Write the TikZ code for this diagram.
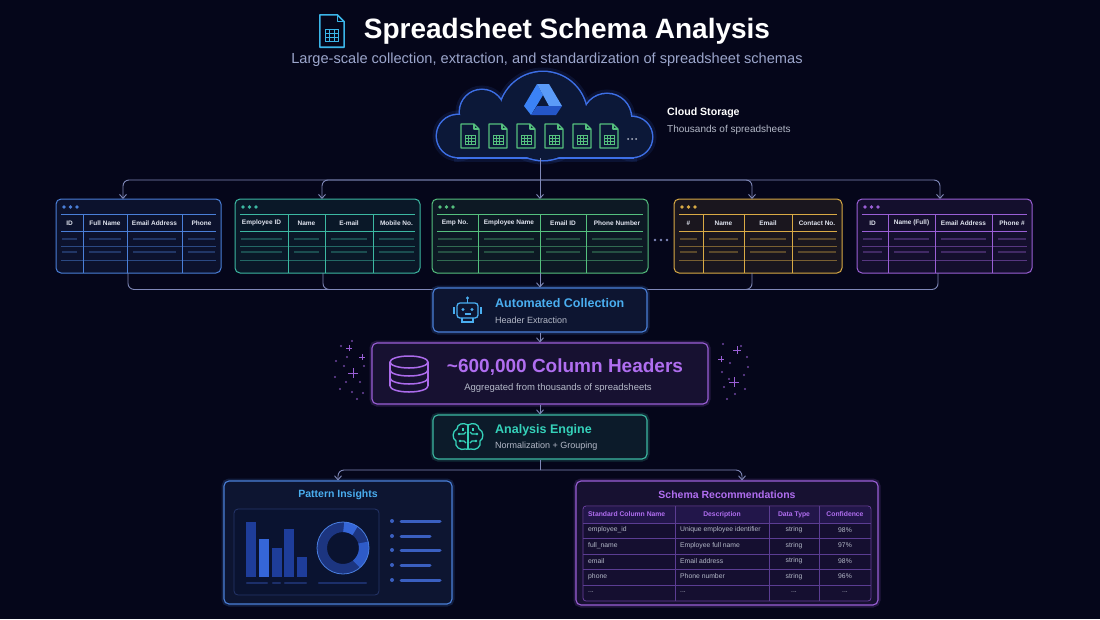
\documentclass[tikz,border=0pt]{standalone}
\usepackage{fontspec}
\setmainfont{Liberation Sans}
\usetikzlibrary{arrows.meta,positioning,calc}

\definecolor{bgcol}{HTML}{05061A}
\definecolor{linkcol}{HTML}{7F88B8}
\definecolor{cblue}{HTML}{4A7FD8}
\definecolor{cteal}{HTML}{3CB8A2}
\definecolor{cgreen}{HTML}{55C07E}
\definecolor{camber}{HTML}{D9AA45}
\definecolor{cpurple}{HTML}{9A5FD6}
\definecolor{ccyan}{HTML}{3BB5E8}
\definecolor{skyblue}{HTML}{4AAEF0}
\definecolor{violet}{HTML}{B06EF0}
\definecolor{aqua}{HTML}{35D2BA}
\definecolor{headtxt}{HTML}{DFE3EE}
\definecolor{subtxt}{HTML}{B4B9C8}
\definecolor{subtitle}{HTML}{9CA6CC}
\definecolor{cloudline}{HTML}{3D6FE6}
\definecolor{cloudfill}{HTML}{0C1838}
\definecolor{barcol}{HTML}{1E3D9A}
\definecolor{barhi}{HTML}{3566D8}
\definecolor{drivea}{HTML}{3B82F6}
\definecolor{driveb}{HTML}{5B9BF8}
\definecolor{drivec}{HTML}{2456C8}
\definecolor{chartline}{HTML}{25356A}
\definecolor{chartfill}{HTML}{0A1330}
\definecolor{barlab}{HTML}{1C2F6A}
\definecolor{ringcol}{HTML}{1C3580}
\definecolor{segone}{HTML}{3566D8}
\definecolor{segtwo}{HTML}{2E5BC8}
\definecolor{ringedge}{HTML}{4A7FE0}
\definecolor{listcol}{HTML}{3A5FC0}
\definecolor{tabline}{HTML}{6A40A0}
\definecolor{tabfill}{HTML}{150F30}
\definecolor{tabhead}{HTML}{22164A}
\definecolor{tabgrid}{HTML}{5B3D92}

\tikzset{
  IconLine/.style = {line width=1.1pt},
  sheeticon/.pic = {
    \draw[IconLine, line join=round] (-9,-12) -- (4,-12) -- (9,-7) -- (9,12) -- (-9,12) -- cycle;
    \draw[IconLine, line join=round] (4,-12) -- (4,-7) -- (9,-7);
    \draw[line width=.9pt] (-5,-1) rectangle (5,8);
    \draw[line width=.7pt] (-5,2) -- (5,2) (-5,5) -- (5,5) (-1.7,-1) -- (-1.7,8) (1.7,-1) -- (1.7,8);
  }
}

% name, colour, left x, right x, columns (from/to/label)
\newcommand{\SheetTable}[5]{%
  \node[TableStyle=#2, anchor=north west, minimum width=#4pt-#3pt, minimum height=74pt] (#1) at (#3,199) {};
  \foreach \d in {8,14.5,21} \fill[#2] (#3+\d,207) circle (1.8);
  \draw[#2, line width=.8pt] (#3+5,214) -- (#4-5,214) (#3+5,231) -- (#4-5,231);
  \draw[#2!55!bgcol, line width=.6pt] (#3+5,246) -- (#4-5,246) (#3+5,260) -- (#4-5,260);
  \foreach \a/\b/\lab [count=\i] in {#5} {
    \ifnum\i>1 \draw[#2, line width=.8pt] (\a,214) -- (\a,273); \fi
    \node[HeadStyle] (#1-h\i) at ({(\a+\b)/2},223) {\lab};
    \draw[#2!40!bgcol, line width=1.4pt] (\a+6,239) -- (\b-6,239) (\a+6,252) -- (\b-6,252);
  }
}

\begin{document}
\begin{tikzpicture}[x=1pt, y=-1pt]
  \tikzset{
    TableStyle/.style = {draw=#1, line width=1pt, rounded corners=5pt, fill=#1!10!bgcol, inner sep=0pt, outer sep=0pt},
    HeadStyle/.style = {text=headtxt, font=\fontsize{6.5}{7}\selectfont\bfseries, inner sep=0pt},
    BoxStyle/.style = {draw=#1, fill=#1!12!bgcol, line width=1.1pt, rounded corners=5pt, inner sep=0pt,
                       preaction={draw=#1, draw opacity=.2, line width=5pt}},
    EdgeStyle/.style = {draw=linkcol, line width=.9pt, rounded corners=6pt, -{Straight Barb[length=4pt,width=7pt]}},
    LinkStyle/.style = {draw=linkcol, line width=.9pt, rounded corners=6pt},
    TitleStyle/.style = {anchor=west, font=\fontsize{12.5}{14}\selectfont\bfseries, inner sep=0pt},
    SubStyle/.style = {anchor=west, text=subtxt, font=\fontsize{9}{11}\selectfont, inner sep=0pt},
    CellStyle/.style = {text=subtxt, font=\fontsize{6.8}{8}\selectfont, inner sep=0pt},
    SparkStyle/.style = {fill=cpurple, opacity=.7}
  }
  \useasboundingbox (0,0) rectangle (1100,619);
  \fill[bgcol] (0,0) rectangle (1100,619);

  % title
  \pic[ccyan, scale=1.35, IconLine/.style={line width=1.6pt}] at (332,31) {sheeticon};
  \node[text=white, font=\fontsize{28}{32}\selectfont\bfseries] (title) at (567,31) {Spreadsheet Schema Analysis};
  \node[text=subtitle, font=\fontsize{14.6}{17}\selectfont] (subtitle) at (547,60)
    {Large-scale collection, extraction, and standardization of spreadsheet schemas};

  % cloud
  \node[inner sep=0pt, minimum width=218pt, minimum height=86pt] (cloud) at (540,115) {};
  \foreach \cx/\cy/\r in {458/136/21, 482/112/22, 543/116/44, 607/118/24, 632/137/20}
    \draw[cloudline, line width=9pt, draw opacity=.12] (\cx,\cy) circle (\r);
  \draw[cloudline, line width=9pt, draw opacity=.12] (458,118) rectangle (632,157);
  \foreach \cx/\cy/\r in {458/136/21, 482/112/22, 543/116/44, 607/118/24, 632/137/20}
    \draw[cloudline, line width=3pt] (\cx,\cy) circle (\r);
  \draw[cloudline, line width=3pt] (458,118) rectangle (632,157);
  \foreach \cx/\cy/\r in {458/136/21, 482/112/22, 543/116/44, 607/118/24, 632/137/20}
    \fill[cloudfill] (\cx,\cy) circle (\r);
  \fill[cloudfill] (458,118) rectangle (632,157);
  \fill[drivea] (537,84) -- (543,95) -- (531,115) -- (524,106) -- cycle;
  \fill[driveb] (537,84) -- (549,84) -- (562,106) -- (549,106) -- cycle;
  \fill[drivec] (537,106) -- (562,106) -- (556,115) -- (531,115) -- cycle;
  \foreach \x in {470,498,526,554,582,609}
    \pic[cgreen] at (\x,136) {sheeticon};
  \foreach \x in {628,632,636} \fill[subtxt] (\x,139) circle (1);
  \node[anchor=west, text=white, font=\fontsize{10.6}{12}\selectfont\bfseries, inner sep=0pt] (store) at (667,113) {Cloud Storage};
  \node[anchor=west, text=subtxt, font=\fontsize{10}{12}\selectfont, inner sep=0pt] (store-sub) at (667,130) {Thousands of spreadsheets};

  % spreadsheets
  \SheetTable{t1}{cblue}{56}{221}{56/83/ID, 83/127/Full Name, 127/182/Email Address, 182/221/Phone}
  \SheetTable{t2}{cteal}{235}{420}{235/288/Employee ID, 288/325/Name, 325/373/E-mail, 373/420/Mobile No.}
  \SheetTable{t3}{cgreen}{432}{648}{432/478/Emp No., 478/540/Employee Name, 540/586/Email ID, 586/648/Phone Number}
  \SheetTable{t4}{camber}{674}{842}{674/703/\#, 703/744/Name, 744/792/Email, 792/842/Contact No.}
  \SheetTable{t5}{cpurple}{857}{1032}{857/888/ID, 888/935/Name (Full), 935/992/Email Address, 992/1032/Phone \#}
  \foreach \x in {655,661,667} \fill[linkcol] (\x,240) circle (1.4);

  % pipeline boxes
  \node[BoxStyle=cblue, minimum width=214pt, minimum height=44pt] (ac) at (540,310) {};
  \node[BoxStyle=cpurple, minimum width=336pt, minimum height=61pt] (hub) at (540,373.5) {};
  \node[BoxStyle=cteal, minimum width=214pt, minimum height=44pt] (ae) at (540,437) {};

  \node[TitleStyle, text=skyblue] (ac-title) at (495,303) {Automated Collection};
  \node[SubStyle] (ac-sub) at (495,320) {Header Extraction};
  \begin{scope}[skyblue, line width=1.3pt]
    \draw[rounded corners=3pt] (457,303) rectangle (478,318);
    \draw (467.5,303) -- (467.5,299);
    \fill (467.5,298) circle (1.7);
    \draw (454,307) -- (454,314) (481,307) -- (481,314);
    \fill (463,309.5) circle (1.6) (472,309.5) circle (1.6);
    \draw (464.5,314) -- (470.5,314);
    \draw (462,318) -- (462,322) -- (473,322) -- (473,318);
  \end{scope}

  \node[text=violet, font=\fontsize{19}{22}\selectfont\bfseries, inner sep=0pt] (hub-title) at (565,367) {\textasciitilde600,000 Column Headers};
  \node[text=subtxt, font=\fontsize{9.5}{11}\selectfont, inner sep=0pt] (hub-sub) at (558,388) {Aggregated from thousands of spreadsheets};
  \begin{scope}[violet!80!cpurple, line width=1.5pt]
    \draw (409,362) ellipse (19 and 6);
    \draw (390,362) -- (390,386) (428,362) -- (428,386);
    \foreach \y in {370,378,386}
      \draw (390,\y) arc[start angle=180, end angle=0, x radius=19, y radius=6];
  \end{scope}
  \foreach \x/\y in {341/346,352/341,336/361,347/357,344/366,364/366,335/377,346/382,360/382,340/389,352/392,363/393,357/399,
                     723/344,741/346,747/357,730/363,748/367,722/372,744/375,729/379,724/387,745/389,735/394,727/399}
    \fill[SparkStyle] (\x,\y) circle (1.1);
  \foreach \x/\y/\s in {353/373/5, 362/357/3, 349/348/3, 737/350/4, 721/359/3, 734/382/5}
    \draw[cpurple, line width=1pt] (\x-\s,\y) -- (\x+\s,\y) (\x,\y-\s) -- (\x,\y+\s);

  \node[TitleStyle, text=aqua] (ae-title) at (495,430) {Analysis Engine};
  \node[SubStyle] (ae-sub) at (495,446) {Normalization + Grouping};
  \begin{scope}[shift={(468,437)}, aqua, line width=1.3pt]
    \draw (0,-12) .. controls (-5,-15) and (-11,-13) .. (-11,-8) .. controls (-16,-6) and (-16,2) .. (-12,4)
          .. controls (-14,10) and (-7,14) .. (-3,12) .. controls (-1,13) and (0,12) .. (0,11);
    \draw (0,-12) .. controls (5,-15) and (11,-13) .. (11,-8) .. controls (16,-6) and (16,2) .. (12,4)
          .. controls (14,10) and (7,14) .. (3,12) .. controls (1,13) and (0,12) .. (0,11);
    \draw (0,-12) -- (0,11);
    \draw (-9,-3) -- (-4,-3) -- (-2,-5) (-8,4) -- (-4,4) -- (-2,6) (9,-3) -- (4,-3) -- (2,-5) (8,4) -- (4,4) -- (2,6);
    \draw (-5,-9) -- (-5,-6) (5,-9) -- (5,-6);
    \fill (-9,-3) circle (1.3) (-8,4) circle (1.3) (9,-3) circle (1.3) (8,4) circle (1.3);
  \end{scope}

  % result panels
  \node[BoxStyle=cblue, minimum width=228pt, minimum height=123pt] (pi) at (338,542.5) {};
  \node[BoxStyle=cpurple, minimum width=302pt, minimum height=124pt] (sr) at (727,543) {};
  \node[text=skyblue, font=\fontsize{10.5}{12}\selectfont\bfseries, inner sep=0pt] (pi-title) at (338,495) {Pattern Insights};
  \node[text=violet, font=\fontsize{10.5}{12}\selectfont\bfseries, inner sep=0pt] (sr-title) at (727,495) {Schema Recommendations};

  \node[draw=chartline, fill=chartfill, line width=.8pt, rounded corners=4pt, minimum width=145pt, minimum height=86pt] (chart) at (306.5,552) {};
  \foreach \x/\t in {246/522, 272/548, 284/529, 297/557}
    \fill[barcol] (\x,\t) rectangle (\x+10,577);
  \fill[barhi] (259,539) rectangle (269,577);
  \draw[barlab, line width=2.5pt, line cap=round] (247,583) -- (267,583) (273,583) -- (280,583) (285,583) -- (306,583) (319,583) -- (366,583);
  \draw[ringcol, line width=10pt] (343,548) circle (21);
  \draw[segone, line width=10pt] ($(343,548)+(-88:21)$) arc[start angle=-88, end angle=-55, radius=21];
  \draw[segtwo, line width=10pt] ($(343,548)+(-15:21)$) arc[start angle=-15, end angle=50, radius=21];
  \draw[ringedge, line width=.8pt] (343,548) circle (26);
  \foreach \y/\l in {521/440, 536/430, 550/440, 565/430, 580/440} {
    \fill[listcol] (392,\y) circle (2);
    \draw[listcol, line width=3pt, line cap=round] (401,\y) -- (\l,\y);
  }

  \node[draw=tabline, fill=tabfill, line width=.8pt, rounded corners=3pt, minimum width=288pt, minimum height=95pt] (srtab) at (727,553.5) {};
  \fill[tabhead] (584,507) rectangle (870,523);
  \draw[tabgrid, line width=.7pt] (583,523) -- (871,523) (583,538) -- (871,538) (583,554) -- (871,554) (583,569) -- (871,569) (583,585) -- (871,585)
                                  (675,506) -- (675,601) (769,506) -- (769,601) (819,506) -- (819,601);
  \node[anchor=west, text=violet, font=\fontsize{6.8}{8}\selectfont\bfseries, inner sep=0pt] (sr-h1) at (588,514.5) {Standard Column Name};
  \node[text=violet, font=\fontsize{6.8}{8}\selectfont\bfseries, inner sep=0pt] (sr-h2) at (722,514.5) {Description};
  \node[text=violet, font=\fontsize{6.8}{8}\selectfont\bfseries, inner sep=0pt] (sr-h3) at (794,514.5) {Data Type};
  \node[text=violet, font=\fontsize{6.8}{8}\selectfont\bfseries, inner sep=0pt] (sr-h4) at (845,514.5) {Confidence};
  \foreach \n/\d/\t/\c [count=\r] in {employee\_id/Unique employee identifier/string/98\%,
                                      full\_name/Employee full name/string/97\%,
                                      email/Email address/string/98\%,
                                      phone/Phone number/string/96\%} {
    \node[CellStyle, anchor=west] (sr-a\r) at (588,{530+(\r-1)*15.5}) {\n};
    \node[CellStyle, anchor=west] (sr-b\r) at (680,{530+(\r-1)*15.5}) {\d};
    \node[CellStyle] (sr-c\r) at (794,{530+(\r-1)*15.5}) {\t};
    \node[CellStyle] (sr-d\r) at (845,{530+(\r-1)*15.5}) {\c};
  }
  \node[CellStyle, anchor=west] (sr-a5) at (588,592) {...};
  \node[CellStyle, anchor=west] (sr-b5) at (680,592) {...};
  \node[CellStyle] (sr-c5) at (794,592) {...};
  \node[CellStyle] (sr-d5) at (845,592) {...};

  % connectors
  \coordinate (split) at (540,180);
  \draw[EdgeStyle] (cloud.south) -- (t3.north);
  \foreach \t/\s in {t1/-15.5pt, t2/-5.5pt, t4/-6pt, t5/-4.5pt}
    \draw[EdgeStyle] (split) -| ([xshift=\s]\t.north);
  \foreach \t/\s in {t1/-10.5pt, t2/-4.5pt}
    \draw[LinkStyle] ([xshift=\s]\t.south) |- ([yshift=-2pt]ac.north west);
  \foreach \t/\s in {t4/-6pt, t5/-6.5pt}
    \draw[LinkStyle] ([xshift=\s]\t.south) |- ([yshift=-2pt]ac.north east);
  \draw[EdgeStyle] (t3.south) -- (ac.north);
  \draw[EdgeStyle] (ac.south) -- (hub.north);
  \draw[EdgeStyle] (hub.south) -- (ae.north);
  \coordinate (split2) at (540,470);
  \draw[LinkStyle] (ae.south) -- (split2);
  \draw[EdgeStyle] (split2) -| (pi.north);
  \draw[EdgeStyle] (split2) -| ([xshift=15pt]sr.north);
\end{tikzpicture}
\end{document}
